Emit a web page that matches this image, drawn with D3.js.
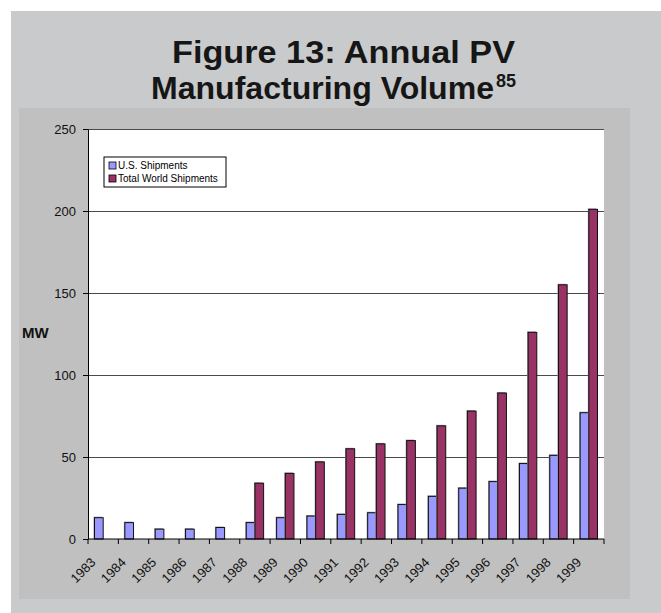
<!DOCTYPE html>
<html>
<head>
<meta charset="utf-8">
<script src="https://cdn.jsdelivr.net/npm/d3@7"></script>
<style>
  html, body { margin: 0; padding: 0; background: #ffffff; }
  svg { display: block; font-family: "Liberation Sans", Arial, sans-serif; }
</style>
</head>
<body>
<svg id="chart" width="661" height="613"></svg>
<script>
// Annual PV shipments, MW
const years = ["1983","1984","1985","1986","1987","1988","1989","1990","1991",
               "1992","1993","1994","1995","1996","1997","1998","1999"];
const usShipments    = [13, 10, 6, 6, 7, 10, 13, 14, 15, 16, 21, 26, 31, 35, 46, 51, 77];
const worldShipments = [null, null, null, null, null, 34, 40, 47, 55, 58, 60, 69, 78, 89, 126, 155, 201];
const seriesNames  = ["U.S. Shipments", "Total World Shipments"];
const seriesColors = ["#9999ff", "#993366"];
const yTicks = [0, 50, 100, 150, 200, 250];

const svg = d3.select("#chart");

// background frames
svg.append("rect").attr("x", 11).attr("y", 11).attr("width", 650).attr("height", 602).attr("fill", "#c9cacc");
svg.append("rect").attr("x", 19).attr("y", 108).attr("width", 611).attr("height", 491).attr("fill", "#c0c0c0");

// title, two lines
const titleStyle = sel => sel.attr("font-weight", "bold").attr("fill", "#161616");
titleStyle(svg.append("text"))
  .attr("x", 172).attr("y", 63).attr("font-size", 32)
  .attr("textLength", 343).attr("lengthAdjust", "spacingAndGlyphs")
  .text("Figure 13: Annual PV");
titleStyle(svg.append("text"))
  .attr("x", 151).attr("y", 99).attr("font-size", 32)
  .attr("textLength", 343).attr("lengthAdjust", "spacingAndGlyphs")
  .text("Manufacturing Volume");
titleStyle(svg.append("text"))
  .attr("x", 496).attr("y", 87).attr("font-size", 18)
  .text("85");

// plot area
const plotL = 88, plotR = 604, plotT = 129, plotB = 539;
svg.append("rect").attr("x", plotL).attr("y", plotT).attr("width", plotR - plotL).attr("height", plotB - plotT).attr("fill", "#ffffff");

const x = d3.scaleBand().domain(years).range([plotL, plotR]).paddingInner(0).paddingOuter(0);
const y = d3.scaleLinear().domain([0, 250]).range([plotB, plotT]);

// gridlines
svg.append("g").selectAll("line").data(yTicks.filter(d => d > 0)).join("line")
  .attr("x1", plotL).attr("x2", plotR)
  .attr("y1", d => y(d)).attr("y2", d => y(d))
  .attr("stroke", "#4a4a4a").attr("stroke-width", 1).attr("shape-rendering", "crispEdges");

// bars: gap width 150% of a bar
const bw = x.bandwidth() / 3.5;
const series = [usShipments, worldShipments];
series.forEach((vals, si) => {
  const data = years.map((yr, i) => ({ yr, v: vals[i] })).filter(d => d.v != null);
  const g = svg.append("g");
  // soft shadow
  g.selectAll("rect.sh").data(data).join("rect")
    .attr("class", "sh")
    .attr("x", d => x(d.yr) + bw * 0.75 + si * bw - 1)
    .attr("y", d => y(d.v) - 1)
    .attr("width", bw).attr("height", d => y(0) - y(d.v) + 1)
    .attr("fill", "#999");
  g.selectAll("rect.bar").data(data).join("rect")
    .attr("class", "bar")
    .attr("x", d => x(d.yr) + bw * 0.75 + si * bw)
    .attr("y", d => y(d.v))
    .attr("width", bw).attr("height", d => y(0) - y(d.v))
    .attr("fill", seriesColors[si])
    .attr("stroke", "#111").attr("stroke-width", 1);
});

// y axis
const yAxis = svg.append("g").attr("transform", `translate(${plotL},0)`)
  .call(d3.axisLeft(y).tickValues(yTicks).tickSize(5).tickSizeOuter(0));
yAxis.select(".domain").attr("stroke", "#000");
yAxis.selectAll(".tick line").attr("stroke", "#000");
yAxis.selectAll(".tick text").attr("font-size", 13).attr("fill", "#111")
  .attr("font-family", "Liberation Sans, Arial, sans-serif").attr("x", -12);

// x axis: ticks at category boundaries
const xAxisG = svg.append("g");
xAxisG.append("line").attr("x1", plotL).attr("x2", plotR).attr("y1", plotB).attr("y2", plotB)
  .attr("stroke", "#000");
const bounds = years.map(yr => x(yr)).concat([plotR]);
xAxisG.selectAll("line.tk").data(bounds).join("line")
  .attr("class", "tk")
  .attr("x1", d => d).attr("x2", d => d).attr("y1", plotB).attr("y2", plotB + 5)
  .attr("stroke", "#000");
xAxisG.selectAll("text").data(years).join("text")
  .attr("transform", d => `translate(${x(d) + x.bandwidth() / 2 - 10},${plotB + 21}) rotate(-45)`)
  .attr("text-anchor", "end")
  .attr("dy", "0.35em")
  .attr("font-size", 13).attr("fill", "#111")
  .text(d => d);

// y axis title
svg.append("text").attr("x", 22).attr("y", 338)
  .attr("font-size", 15).attr("font-weight", "bold").attr("fill", "#111").text("MW");

// legend
const lg = svg.append("g").attr("transform", "translate(104,157)");
lg.append("rect").attr("width", 122).attr("height", 30).attr("fill", "#fff").attr("stroke", "#000");
seriesNames.forEach((name, i) => {
  lg.append("rect").attr("x", 5).attr("y", 5 + i * 13).attr("width", 7).attr("height", 7)
    .attr("fill", seriesColors[i]).attr("stroke", "#000").attr("stroke-width", 0.8);
  lg.append("text").attr("x", 14).attr("y", 12 + i * 13).attr("font-size", 10).attr("fill", "#000").text(name);
});
</script>
</body>
</html>
